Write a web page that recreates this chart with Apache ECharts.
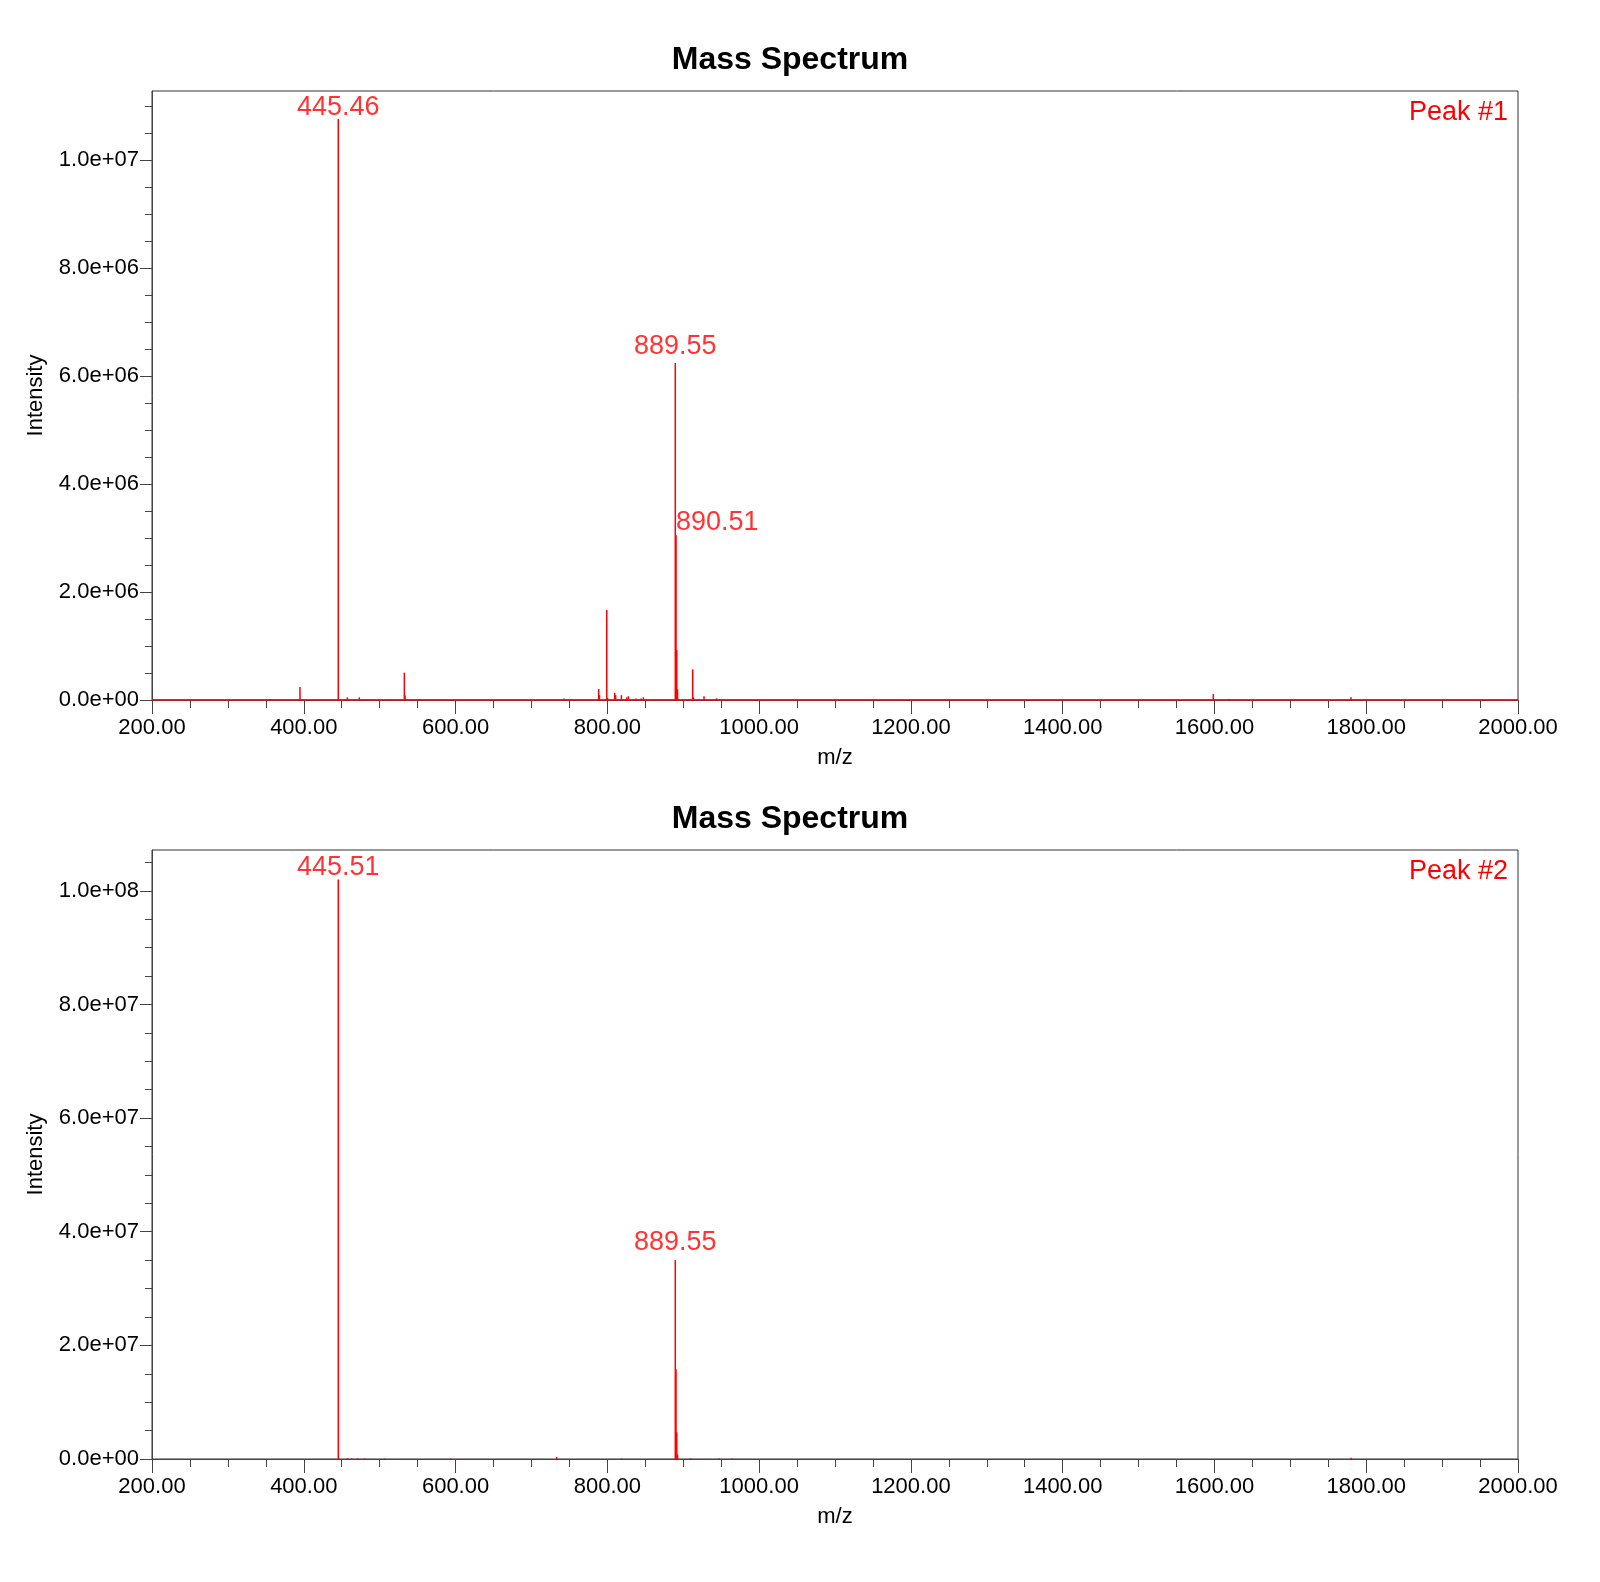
<!DOCTYPE html>
<html lang="en">
<head>
    <meta charset="UTF-8">
    <title>Mass Spectrum</title>
    <script src="https://cdn.jsdelivr.net/npm/echarts@6.0.0/dist/echarts.min.js"></script>
    <style>
        *{
            margin: 0;
            padding: 0;
        }
        body{
            background-color: #fff;
        }
        #main{
            width: 1600px;
            height: 1582px;
        }
    </style>
</head>
<body>
<div id="main"></div>
<script>
    // peak #1 sticks (m/z, intensity)
    var mz1 = [355.5, 395.0, 445.46, 457.4, 473.2, 514.1, 532.5, 533.5, 553.0, 743.0,
        788.6, 789.6, 799.2, 800.2, 809.7, 811.0, 818.5, 825.5, 827.7, 837.8, 844.4, 847.5,
        889.55, 890.51, 891.5, 892.5, 912.5, 913.5, 927.4, 944.0, 1598.5, 1618.8, 1780.0];
    var int1 = [2e4, 2.4e5, 1.0756e7, 5e4, 5e4, 2e4, 5.06e5, 9e4, 2e4, 3e4,
        2.04e5, 9e4, 1.667e6, 4e4, 1.35e5, 9e4, 9e4, 5e4, 7e4, 3e4, 3e4, 5e4,
        6.238e6, 3.05e6, 9.26e5, 2e5, 5.68e5, 5e4, 7e4, 3e4, 1.1e5, 2e4, 5e4];
    var labels1 = [445.46, 889.55, 890.51];

    // peak #2 sticks
    var mz2 = [445.51, 457.8, 463.0, 471.0, 480.0, 506.0, 593.6, 733.2, 818.8,
        889.55, 890.5, 891.5, 892.5, 909.8, 947.5, 964.7, 1780.0];
    var int2 = [1.0197e8, 1.5e5, 1e5, 1e5, 1e5, 1e5, 1e5, 3.5e5, 1e5,
        3.5e7, 1.58e7, 4.7e6, 8e5, 1e5, 1e5, 1e5, 2e5];
    var labels2 = [445.51, 889.55];

    // tick labels
    var xTicks = [200, 400, 600, 800, 1000, 1200, 1400, 1600, 1800, 2000];
    var yTicks1 = [0, 2e6, 4e6, 6e6, 8e6, 1e7];
    var yTicks2 = [0, 2e7, 4e7, 6e7, 8e7, 1e8];

    var FONT = "'Liberation Sans', Arial, sans-serif";
    var RED = '#ff0000';
    var AXIS = '#444';

    function minorTicks(from, to, step, major) {
        var out = [];
        for (var i = 1; from + i * step < to; i++) {
            var v = from + i * step;
            if (major.indexOf(v) < 0) out.push(v);
        }
        return out;
    }

    function fmtExp(v) {
        if (v === 0) return '0.0e+00';
        var e = Math.floor(Math.log10(v));
        var m = v / Math.pow(10, e);
        return m.toFixed(1) + 'e+' + (e < 10 ? '0' : '') + e;
    }

    function pairs(mz, inten) {
        var d = [];
        for (var i = 0; i < mz.length; i++) d.push([mz[i], inten[i]]);
        return d;
    }

    function labelPoints(lbls, mz, inten, opts) {
        var d = [];
        for (var i = 0; i < lbls.length; i++) {
            var k = mz.indexOf(lbls[i]);
            d.push({value: [mz[k], inten[k]], label: opts[i]});
        }
        return d;
    }

    function xAxes(gi) {
        return [{
            type: 'value', gridIndex: gi, position: 'bottom', min: 200, max: 2000,
            name: 'm/z', nameLocation: 'middle', nameGap: 47,
            nameTextStyle: {fontSize: 22, color: '#000', fontFamily: FONT},
            splitLine: {show: false},
            axisLine: {onZero: false, lineStyle: {color: AXIS}},
            axisTick: {length: 14, customValues: xTicks, lineStyle: {color: AXIS}},
            axisLabel: {customValues: xTicks, margin: 17, fontSize: 22, color: '#000', fontFamily: FONT,
                formatter: function (v) { return v.toFixed(2); }}
        }, {
            type: 'value', gridIndex: gi, position: 'bottom', min: 200, max: 2000,
            splitLine: {show: false},
            axisLine: {show: false, onZero: false},
            axisTick: {length: 8, customValues: minorTicks(200, 2000, 50, xTicks), lineStyle: {color: AXIS}},
            axisLabel: {show: false}
        }];
    }

    function yAxes(gi, max, ticks, step) {
        return [{
            type: 'value', gridIndex: gi, position: 'left', min: 0, max: max,
            name: 'Intensity', nameLocation: 'middle', nameGap: 105,
            nameTextStyle: {fontSize: 22, color: '#000', fontFamily: FONT},
            splitLine: {show: false},
            axisLine: {show: true, onZero: false, lineStyle: {color: AXIS}},
            axisTick: {show: true, length: 12, customValues: ticks, lineStyle: {color: AXIS}},
            axisLabel: {customValues: ticks, margin: 13, fontSize: 22, color: '#000', fontFamily: FONT,
                padding: [4, 0, 0, 0], formatter: fmtExp}
        }, {
            type: 'value', gridIndex: gi, position: 'left', min: 0, max: max,
            splitLine: {show: false},
            axisLine: {show: false, onZero: false},
            axisTick: {show: true, length: 7, customValues: minorTicks(0, max, step, ticks), lineStyle: {color: AXIS}},
            axisLabel: {show: false}
        }];
    }

    var peakLabel = {
        show: true, position: 'top', color: RED, fontSize: 27, fontFamily: FONT,
        formatter: function (p) { return p.value[0].toFixed(2); }
    };

    var myChart = echarts.init(document.getElementById('main'));

    var option = {
        animation: false,
        backgroundColor: '#fff',
        grid: [
            {left: 152, right: 82, top: 91, height: 609, show: true, borderColor: '#333', borderWidth: 1},
            {left: 152, right: 82, top: 850, height: 609, show: true, borderColor: '#333', borderWidth: 1}
        ],
        xAxis: xAxes(0).concat(xAxes(1)),
        yAxis: yAxes(0, 1.1275e7, yTicks1, 5e5).concat(yAxes(1, 1.0718e8, yTicks2, 5e6)),
        graphic: [
            {type: 'text', x: 790, y: 60, style: {text: 'Mass Spectrum', fontSize: 32, fontWeight: 'bold',
                fontFamily: FONT, fill: '#000', align: 'center', verticalAlign: 'middle'}},
            {type: 'text', x: 790, y: 819, style: {text: 'Mass Spectrum', fontSize: 32, fontWeight: 'bold',
                fontFamily: FONT, fill: '#000', align: 'center', verticalAlign: 'middle'}},
            {type: 'text', x: 1508, y: 113, style: {text: 'Peak #1', fontSize: 27, fontFamily: FONT,
                fill: RED, align: 'right', verticalAlign: 'middle'}},
            {type: 'text', x: 1508, y: 872, style: {text: 'Peak #2', fontSize: 27, fontFamily: FONT,
                fill: RED, align: 'right', verticalAlign: 'middle'}}
        ],
        series: [
            // baseline of spectrum 1
            {
                type: 'line', xAxisIndex: 0, yAxisIndex: 0, symbol: 'none',
                lineStyle: {color: RED, width: 1.5}, data: [[200, 0], [2000, 0]]
            },
            {
                type: 'bar', xAxisIndex: 0, yAxisIndex: 0, barWidth: 1.5, barGap: '-100%',
                itemStyle: {color: RED}, data: pairs(mz1, int1)
            },
            {
                type: 'scatter', xAxisIndex: 0, yAxisIndex: 0, symbolSize: 0, label: peakLabel,
                data: labelPoints(labels1, mz1, int1, [
                    {distance: -2},
                    {distance: 3},
                    {distance: -1, align: 'left'}
                ])
            },
            {
                type: 'bar', xAxisIndex: 2, yAxisIndex: 2, barWidth: 1.5, barGap: '-100%',
                itemStyle: {color: RED}, data: pairs(mz2, int2)
            },
            {
                type: 'scatter', xAxisIndex: 2, yAxisIndex: 2, symbolSize: 0, label: peakLabel,
                data: labelPoints(labels2, mz2, int2, [
                    {distance: -1},
                    {distance: 4}
                ])
            }
        ]
    };

    myChart.setOption(option);
</script>
</body>
</html>
